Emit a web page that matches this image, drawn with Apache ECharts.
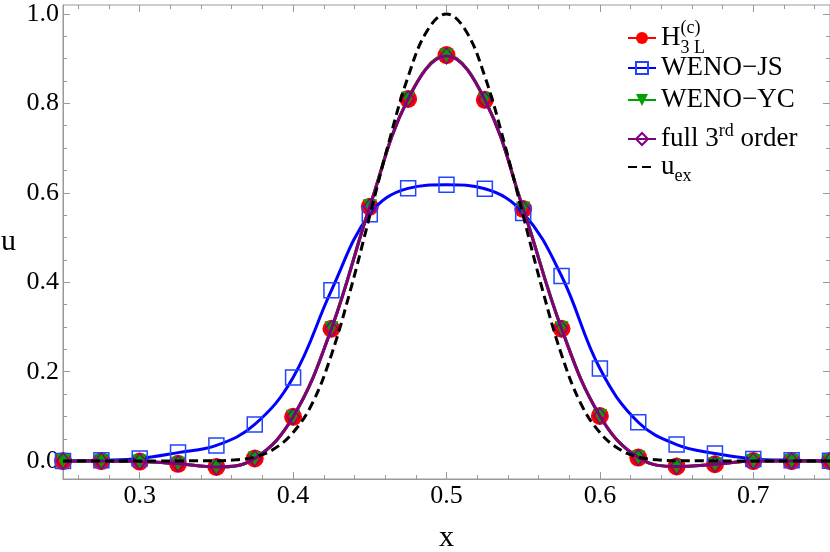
<!DOCTYPE html>
<html>
<head>
<meta charset="utf-8">
<script src="https://cdn.jsdelivr.net/npm/echarts@6/dist/echarts.min.js"></script>
<style>
html,body{margin:0;padding:0;background:#fff;}
#chart{width:830px;height:552px;}
</style>
</head>
<body>
<div id="chart"></div>
<script>
// grid points of the schemes
const xs = [0.25,0.275,0.3,0.325,0.35,0.375,0.4,0.425,0.45,0.475,0.5,0.525,0.55,0.575,0.6,0.625,0.65,0.675,0.7,0.725,0.75];
const h3l    = [0,0,-0.001,-0.006,-0.013,0.006,0.099,0.296,0.569,0.810,0.908,0.808,0.564,0.296,0.101,0.008,-0.012,-0.007,0,0,0];
const wenoJS = [0,0.002,0.006,0.019,0.035,0.082,0.187,0.382,0.552,0.610,0.618,0.609,0.555,0.414,0.207,0.087,0.037,0.017,0.005,0.002,0.001];
const wenoYC = [0,0,-0.001,-0.006,-0.013,0.006,0.099,0.297,0.570,0.811,0.907,0.809,0.565,0.297,0.101,0.008,-0.012,-0.007,0,0,0];
const full3  = [0,0,-0.001,-0.006,-0.013,0.006,0.099,0.296,0.569,0.810,0.906,0.808,0.564,0.296,0.101,0.008,-0.012,-0.007,0,0,0];
// exact solution, read on a finer grid
const xsEx = [0.25,0.2625,0.275,0.2875,0.3,0.3125,0.325,0.3375,0.35,0.3625,0.375,0.3875,0.4,0.4125,0.425,0.4375,0.45,0.4625,0.475,0.4875,0.5,
              0.5125,0.525,0.5375,0.55,0.5625,0.575,0.5875,0.6,0.6125,0.625,0.6375,0.65,0.6625,0.675,0.6875,0.7,0.7125,0.725,0.7375,0.75];
const uEx  = [0,0,0,0,0,0,0,0.001,0.001,0.003,0.009,0.027,0.064,0.129,0.238,0.384,0.549,0.714,0.860,0.963,1.0,
              0.963,0.860,0.714,0.549,0.384,0.238,0.129,0.064,0.027,0.009,0.003,0.001,0.001,0,0,0,0,0,0,0];
// ticks
const xMajor = [0.3,0.4,0.5,0.6,0.7];
const yMajor = [0,0.2,0.4,0.6,0.8,1.0];
const xMinor = [];
for (let k = 26; k <= 74; k += 2) { if (k % 10 !== 0) xMinor.push(k / 100); }
const yMinor = [];
for (let k = 5; k <= 95; k += 5) { if (k % 20 !== 0) yMinor.push(k / 100); }

const serif = 'Liberation Serif';
const gray = '#999';

let chart = echarts.init(document.getElementById('chart'), null, {renderer: 'canvas'});

function pairs(x, y) {
    return x.map((v, i) => [v, y[i]]);
}

/* one axis that only draws ticks */
function tickAxis(kind, pos, vals, len) {
    let ax = {
        type: 'value',
        position: pos,
        min: kind === 'x' ? 0.25 : -0.04,
        max: kind === 'x' ? 0.75 : 1.02,
        axisLine: {show: false, onZero: false},
        axisTick: {show: true, inside: true, length: len, customValues: vals, lineStyle: {color: gray, width: 1}},
        axisLabel: {show: false},
        splitLine: {show: false}
    };
    return ax;
}

let xMain = tickAxis('x', 'bottom', xMajor, 7);
xMain.axisLine = {show: true, onZero: false, lineStyle: {color: gray, width: 1}};
xMain.axisLabel = {show: true, customValues: xMajor, formatter: v => v.toFixed(1), color: '#000', fontFamily: serif, fontSize: 26, margin: 4};
xMain.name = 'x';
xMain.nameLocation = 'middle';
xMain.nameGap = 44;
xMain.nameTextStyle = {fontFamily: serif, fontSize: 30, color: '#000'};

let yMain = tickAxis('y', 'left', yMajor, 7);
yMain.axisLine = {show: true, onZero: false, lineStyle: {color: gray, width: 1}};
yMain.axisLabel = {show: true, customValues: yMajor, formatter: v => v.toFixed(1), color: '#000', fontFamily: serif, fontSize: 26, margin: 4};
yMain.name = 'u';
yMain.nameLocation = 'middle';
yMain.nameRotate = 0;
yMain.nameGap = 47;
yMain.nameTextStyle = {fontFamily: serif, fontSize: 30, color: '#000'};

const names = ['H3L', 'WENO-JS', 'WENO-YC', 'full', 'uex'];
const labels = {
    'H3L': '{m|H}{sup0|(c)}{sub0|3 L}',
    'WENO-JS': '{m|WENO\u2212JS}',
    'WENO-YC': '{m|WENO\u2212YC}',
    'full': '{m|full 3}{sup|rd}{m| order}',
    'uex': '{m|u}{sub|ex}'
};
const legendY = [34, 68, 100, 137, 167];

let rich = {
    m: {fontFamily: serif, fontSize: 27, lineHeight: 30, color: '#000'},
    sup0: {fontFamily: serif, fontSize: 18, verticalAlign: 'top', padding: [-4, 0, 0, 0], width: 0, color: '#000'},
    sub0: {fontFamily: serif, fontSize: 18, verticalAlign: 'bottom', padding: [0, 0, -4, 0], color: '#000'},
    sup: {fontFamily: serif, fontSize: 18, verticalAlign: 'top', padding: [-2, 0, 0, 0], color: '#000'},
    sub: {fontFamily: serif, fontSize: 18, verticalAlign: 'bottom', padding: [0, 0, -3, 0], color: '#000'}
};

let legends = names.map((n, i) => ({
    data: [n],
    orient: 'vertical',
    left: 627,
    top: legendY[i] - 15,
    padding: 0,
    itemGap: 0,
    itemWidth: 28,
    itemHeight: 15,
    selectedMode: false,
    formatter: nm => labels[nm],
    textStyle: {fontFamily: serif, fontSize: 27, lineHeight: 30, color: '#000', rich: rich}
}));

chart.setOption({
    animation: false,
    backgroundColor: '#fff',
    grid: {left: 63, right: 0, top: 5, bottom: 73, show: true, borderColor: gray, borderWidth: 1, outerBoundsMode: 'none'},
    legend: legends,
    xAxis: [xMain, tickAxis('x', 'bottom', xMinor, 4), tickAxis('x', 'top', xMajor, 7), tickAxis('x', 'top', xMinor, 4)],
    yAxis: [yMain, tickAxis('y', 'left', yMinor, 4), tickAxis('y', 'right', yMajor, 7), tickAxis('y', 'right', yMinor, 4)],
    series: [
        {
            name: 'H3L', type: 'line', z: 2, clip: false, smooth: 0.4,
            data: pairs(xs, h3l),
            symbol: 'circle', symbolSize: 18,
            itemStyle: {color: '#ff0000'},
            lineStyle: {color: '#ff0000', width: 3}
        },
        {
            name: 'WENO-JS', type: 'line', z: 3, clip: false, smooth: 0.4,
            data: pairs(xs, wenoJS),
            symbol: 'rect', symbolSize: 15,
            itemStyle: {color: 'rgba(0,0,0,0)', borderColor: '#2244ff', borderWidth: 1.5},
            lineStyle: {color: '#0000ff', width: 3}
        },
        {
            name: 'WENO-YC', type: 'line', z: 4, clip: false, smooth: 0.4,
            data: pairs(xs, wenoYC),
            symbol: 'triangle', symbolRotate: 180, symbolSize: 14,
            itemStyle: {color: '#00a000'},
            lineStyle: {color: '#00a000', width: 3}
        },
        {
            name: 'full', type: 'line', z: 5, clip: false, smooth: 0.4,
            data: pairs(xs, full3),
            symbol: 'diamond', symbolSize: [13, 16],
            itemStyle: {color: 'rgba(0,0,0,0)', borderColor: '#800080', borderWidth: 1.3},
            lineStyle: {color: '#800080', width: 3}
        },
        {
            name: 'uex', type: 'line', z: 6, clip: false, smooth: 0.4,
            data: pairs(xsEx, uEx),
            showSymbol: false, symbol: 'none', legendIcon: 'rect',
            itemStyle: {color: 'rgba(0,0,0,0)', borderWidth: 0},
            lineStyle: {color: '#000', width: 3, type: [9, 5]}
        }
    ]
});

window.addEventListener('resize', function () {
    chart.resize();
});
</script>
</body>
</html>
